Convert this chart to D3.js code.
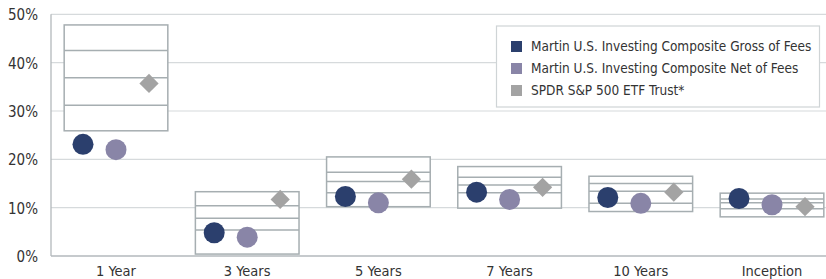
<!DOCTYPE html>
<html>
<head>
<meta charset="utf-8">
<script src="https://cdn.jsdelivr.net/npm/d3@7"></script>
<style>
  body { margin: 0; background: #fff; }
  text { font-family: "DejaVu Sans Condensed", "DejaVu Sans", sans-serif; font-stretch: condensed; fill: #333; }
</style>
</head>
<body>
<svg width="826" height="279"></svg>
<script>
let width = 826, height = 279;

// categories and series (returns in %)
let categories = ["1 Year", "3 Years", "5 Years", "7 Years", "10 Years", "Inception"];
let gross = [23.1, 4.8, 12.3, 13.2, 12.1, 11.9];
let net = [22.0, 3.9, 11.0, 11.7, 10.9, 10.6];
let spdr = [35.7, 11.7, 15.9, 14.2, 13.2, 10.2];

// universe percentile boxes
let p95 = [47.8, 13.3, 20.5, 18.5, 16.5, 13.0];
let p75 = [42.5, 10.4, 17.3, 16.3, 15.0, 11.8];
let p50 = [36.9, 7.8, 15.4, 14.7, 13.4, 11.0];
let p25 = [31.2, 5.4, 13.1, 13.1, 10.9, 9.8];
let p5 = [25.9, 0.4, 10.2, 9.9, 9.2, 8.1];

let yTicks = [0, 10, 20, 30, 40, 50];
let legendLabels = [
    "Martin U.S. Investing Composite Gross of Fees",
    "Martin U.S. Investing Composite Net of Fees",
    "SPDR S&P 500 ETF Trust*"
];
let colors = ["#2b3f6d", "#8985a7", "#a3a3a3"];

let svg = d3.select("svg");

let x = d3.scaleBand()
    .domain(categories)
    .range([50.4, 837.6]);

let y = d3.scaleLinear()
    .domain([0, 50])
    .range([256, 14.3]);

let bw = x.bandwidth();
let cx = c => x(c) + bw / 2;
let boxW = bw * 0.79;
let off = 33;

// gridlines
svg.append("g")
    .selectAll("line")
    .data(yTicks.filter(d => d > 0))
    .enter()
    .append("line")
    .attr("x1", 51)
    .attr("x2", width)
    .attr("y1", d => y(d))
    .attr("y2", d => y(d))
    .attr("stroke", "#d6dadc")
    .attr("stroke-width", 1.2);

// axis lines
svg.append("line")
    .attr("x1", 51).attr("x2", 51)
    .attr("y1", y(50)).attr("y2", y(0))
    .attr("stroke", "#b3b9bc").attr("stroke-width", 1.3);
svg.append("line")
    .attr("x1", 51).attr("x2", width)
    .attr("y1", y(0)).attr("y2", y(0))
    .attr("stroke", "#b3b9bc").attr("stroke-width", 1.3);

// y tick labels
svg.append("g")
    .selectAll("text")
    .data(yTicks)
    .enter()
    .append("text")
    .attr("x", 38)
    .attr("y", d => y(d) + 6)
    .attr("text-anchor", "end")
    .style("font-size", "15px")
    .text(d => d + "%");

// x labels
svg.append("g")
    .selectAll("text")
    .data(categories)
    .enter()
    .append("text")
    .attr("x", d => cx(d))
    .attr("y", 276)
    .attr("text-anchor", "middle")
    .style("font-size", "14.5px")
    .text(d => d);

// boxes
let boxes = svg.append("g")
    .selectAll("g")
    .data(categories)
    .enter()
    .append("g");

boxes.append("rect")
    .attr("x", d => cx(d) - boxW / 2)
    .attr("width", boxW)
    .attr("y", (d, i) => y(p95[i]))
    .attr("height", (d, i) => y(p5[i]) - y(p95[i]))
    .attr("fill", "#fff")
    .attr("stroke", "#a6aeb1")
    .attr("stroke-width", 1.5);

[p75, p50, p25].forEach(arr => {
    boxes.append("line")
        .attr("x1", d => cx(d) - boxW / 2)
        .attr("x2", d => cx(d) + boxW / 2)
        .attr("y1", (d, i) => y(arr[i]))
        .attr("y2", (d, i) => y(arr[i]))
        .attr("stroke", "#a6aeb1")
        .attr("stroke-width", 1.5);
});

// markers
svg.append("g")
    .selectAll("circle")
    .data(categories)
    .enter()
    .append("circle")
    .attr("cx", d => cx(d) - off)
    .attr("cy", (d, i) => y(gross[i]))
    .attr("r", 10.5)
    .attr("fill", colors[0]);

svg.append("g")
    .selectAll("circle")
    .data(categories)
    .enter()
    .append("circle")
    .attr("cx", d => cx(d))
    .attr("cy", (d, i) => y(net[i]))
    .attr("r", 10.5)
    .attr("fill", colors[1]);

let diamond = d3.symbol().type(d3.symbolSquare).size(185);
svg.append("g")
    .selectAll("path")
    .data(categories)
    .enter()
    .append("path")
    .attr("d", diamond)
    .attr("transform", (d, i) => "translate(" + (cx(d) + off) + "," + y(spdr[i]) + ") rotate(45)")
    .attr("fill", colors[2]);

// legend
let legend = svg.append("g");
legend.append("rect")
    .attr("x", 496.5).attr("y", 26)
    .attr("width", 323).attr("height", 81)
    .attr("fill", "#fff")
    .attr("stroke", "#cfd4d6")
    .attr("stroke-width", 1.2);

legendLabels.forEach((l, i) => {
    legend.append("rect")
        .attr("x", 511).attr("y", 41 + i * 22)
        .attr("width", 11).attr("height", 11)
        .attr("fill", colors[i]);
    legend.append("text")
        .attr("x", 531).attr("y", 51 + i * 22)
        .style("font-size", "13.5px")
        .text(l);
});
</script>
</body>
</html>
